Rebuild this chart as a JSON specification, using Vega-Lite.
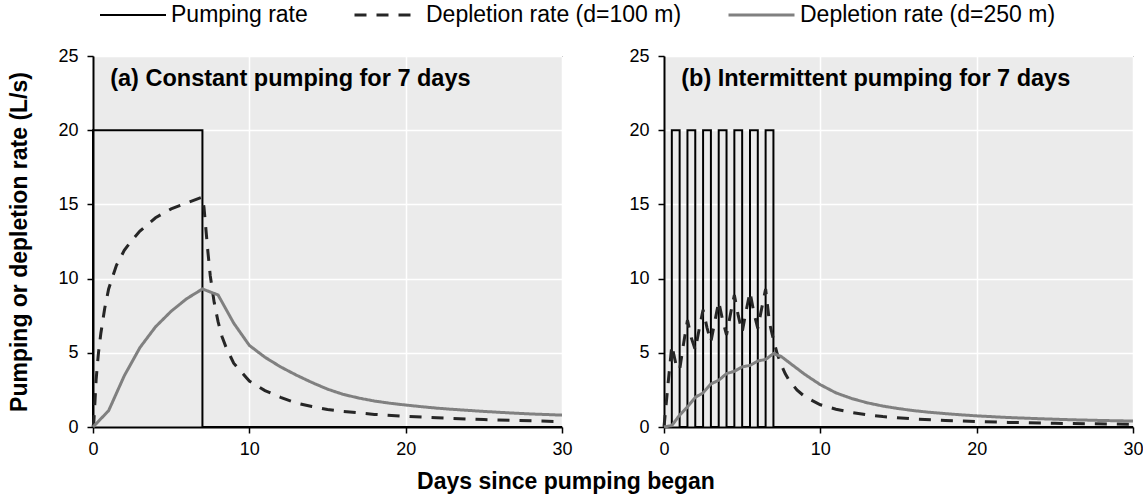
{
 "$schema": "https://vega.github.io/schema/vega-lite/v6.json",
 "background": "white",
 "padding": {"left": 8, "top": 2, "right": 0, "bottom": 1},
 "config": {
  "font": "Liberation Sans",
  "view": {"fill": "#ebebeb", "stroke": "#000000", "strokeWidth": 1},
  "axis": {"domainColor": "#000000", "domainWidth": 2, "tickColor": "#000000", "tickWidth": 1.5, "tickSize": 6, "labelFontSize": 18, "labelColor": "#000000", "labelFont": "Liberation Sans", "gridColor": "#ffffff", "gridWidth": 1.5, "titleFontSize": 23, "titleFontWeight": "bold", "titleColor": "#000000", "titleFont": "Liberation Sans"},
  "axisX": {"labelPadding": 7},
  "axisY": {"labelPadding": 9},
  "legend": {"orient": "none", "legendX": 6, "legendY": -54, "direction": "horizontal", "title": null, "symbolType": "stroke", "symbolSize": 4356, "clipHeight": 26, "labelFontSize": 23, "labelFont": "Liberation Sans", "labelColor": "#000000", "columnPadding": 45, "labelOffset": 4, "labelLimit": 500}
 },
 "title": {"text": "Days since pumping began", "orient": "bottom", "anchor": "middle", "fontSize": 23, "fontWeight": "bold", "color": "#000000", "font": "Liberation Sans", "offset": 12, "dx": -10},
 "data": {"values": [
  {"p":"a","s":"Pumping rate","i":0,"x":0,"y":0},
  {"p":"a","s":"Pumping rate","i":1,"x":0,"y":20},
  {"p":"a","s":"Pumping rate","i":2,"x":7,"y":20},
  {"p":"a","s":"Pumping rate","i":3,"x":7,"y":0},
  {"p":"a","s":"Pumping rate","i":4,"x":30,"y":0},
  {"p":"a","s":"Depletion rate (d=100 m)","i":0,"x":0,"y":0},
  {"p":"a","s":"Depletion rate (d=100 m)","i":0.05,"x":0.05,"y":0.3},
  {"p":"a","s":"Depletion rate (d=100 m)","i":0.1,"x":0.1,"y":1.2},
  {"p":"a","s":"Depletion rate (d=100 m)","i":0.2,"x":0.2,"y":3.2},
  {"p":"a","s":"Depletion rate (d=100 m)","i":0.35,"x":0.35,"y":5.0},
  {"p":"a","s":"Depletion rate (d=100 m)","i":0.5,"x":0.5,"y":6.3},
  {"p":"a","s":"Depletion rate (d=100 m)","i":0.75,"x":0.75,"y":8.0},
  {"p":"a","s":"Depletion rate (d=100 m)","i":1,"x":1,"y":9.3},
  {"p":"a","s":"Depletion rate (d=100 m)","i":1.5,"x":1.5,"y":10.9},
  {"p":"a","s":"Depletion rate (d=100 m)","i":2,"x":2,"y":11.9},
  {"p":"a","s":"Depletion rate (d=100 m)","i":2.5,"x":2.5,"y":12.6},
  {"p":"a","s":"Depletion rate (d=100 m)","i":3,"x":3,"y":13.2},
  {"p":"a","s":"Depletion rate (d=100 m)","i":4,"x":4,"y":14.1},
  {"p":"a","s":"Depletion rate (d=100 m)","i":5,"x":5,"y":14.7},
  {"p":"a","s":"Depletion rate (d=100 m)","i":6,"x":6,"y":15.1},
  {"p":"a","s":"Depletion rate (d=100 m)","i":7,"x":7,"y":15.5},
  {"p":"a","s":"Depletion rate (d=100 m)","i":7.1,"x":7.1,"y":14.8},
  {"p":"a","s":"Depletion rate (d=100 m)","i":7.2,"x":7.2,"y":13.6},
  {"p":"a","s":"Depletion rate (d=100 m)","i":7.35,"x":7.35,"y":11.8},
  {"p":"a","s":"Depletion rate (d=100 m)","i":7.5,"x":7.5,"y":10.2},
  {"p":"a","s":"Depletion rate (d=100 m)","i":7.75,"x":7.75,"y":8.4},
  {"p":"a","s":"Depletion rate (d=100 m)","i":8,"x":8,"y":7.1},
  {"p":"a","s":"Depletion rate (d=100 m)","i":8.25,"x":8.25,"y":6.1},
  {"p":"a","s":"Depletion rate (d=100 m)","i":8.5,"x":8.5,"y":5.4},
  {"p":"a","s":"Depletion rate (d=100 m)","i":9,"x":9,"y":4.3},
  {"p":"a","s":"Depletion rate (d=100 m)","i":10,"x":10,"y":3.1},
  {"p":"a","s":"Depletion rate (d=100 m)","i":11,"x":11,"y":2.45},
  {"p":"a","s":"Depletion rate (d=100 m)","i":12,"x":12,"y":2.0},
  {"p":"a","s":"Depletion rate (d=100 m)","i":13,"x":13,"y":1.62},
  {"p":"a","s":"Depletion rate (d=100 m)","i":14,"x":14,"y":1.38},
  {"p":"a","s":"Depletion rate (d=100 m)","i":15,"x":15,"y":1.18},
  {"p":"a","s":"Depletion rate (d=100 m)","i":16,"x":16,"y":1.05},
  {"p":"a","s":"Depletion rate (d=100 m)","i":18,"x":18,"y":0.85},
  {"p":"a","s":"Depletion rate (d=100 m)","i":20,"x":20,"y":0.72},
  {"p":"a","s":"Depletion rate (d=100 m)","i":22,"x":22,"y":0.62},
  {"p":"a","s":"Depletion rate (d=100 m)","i":25,"x":25,"y":0.5},
  {"p":"a","s":"Depletion rate (d=100 m)","i":30,"x":30,"y":0.36},
  {"p":"a","s":"Depletion rate (d=250 m)","i":0,"x":0,"y":0},
  {"p":"a","s":"Depletion rate (d=250 m)","i":1,"x":1,"y":1.1},
  {"p":"a","s":"Depletion rate (d=250 m)","i":2,"x":2,"y":3.45},
  {"p":"a","s":"Depletion rate (d=250 m)","i":3,"x":3,"y":5.35},
  {"p":"a","s":"Depletion rate (d=250 m)","i":4,"x":4,"y":6.75},
  {"p":"a","s":"Depletion rate (d=250 m)","i":5,"x":5,"y":7.8},
  {"p":"a","s":"Depletion rate (d=250 m)","i":6,"x":6,"y":8.65},
  {"p":"a","s":"Depletion rate (d=250 m)","i":7,"x":7,"y":9.3},
  {"p":"a","s":"Depletion rate (d=250 m)","i":8,"x":8,"y":8.9},
  {"p":"a","s":"Depletion rate (d=250 m)","i":9,"x":9,"y":7.0},
  {"p":"a","s":"Depletion rate (d=250 m)","i":10,"x":10,"y":5.5},
  {"p":"a","s":"Depletion rate (d=250 m)","i":11,"x":11,"y":4.7},
  {"p":"a","s":"Depletion rate (d=250 m)","i":12,"x":12,"y":4.05},
  {"p":"a","s":"Depletion rate (d=250 m)","i":13,"x":13,"y":3.5},
  {"p":"a","s":"Depletion rate (d=250 m)","i":14,"x":14,"y":3.0},
  {"p":"a","s":"Depletion rate (d=250 m)","i":15,"x":15,"y":2.55},
  {"p":"a","s":"Depletion rate (d=250 m)","i":16,"x":16,"y":2.2},
  {"p":"a","s":"Depletion rate (d=250 m)","i":17,"x":17,"y":1.95},
  {"p":"a","s":"Depletion rate (d=250 m)","i":18,"x":18,"y":1.75},
  {"p":"a","s":"Depletion rate (d=250 m)","i":19,"x":19,"y":1.6},
  {"p":"a","s":"Depletion rate (d=250 m)","i":20,"x":20,"y":1.48},
  {"p":"a","s":"Depletion rate (d=250 m)","i":21,"x":21,"y":1.37},
  {"p":"a","s":"Depletion rate (d=250 m)","i":22,"x":22,"y":1.27},
  {"p":"a","s":"Depletion rate (d=250 m)","i":23,"x":23,"y":1.19},
  {"p":"a","s":"Depletion rate (d=250 m)","i":24,"x":24,"y":1.12},
  {"p":"a","s":"Depletion rate (d=250 m)","i":25,"x":25,"y":1.05},
  {"p":"a","s":"Depletion rate (d=250 m)","i":26,"x":26,"y":0.99},
  {"p":"a","s":"Depletion rate (d=250 m)","i":27,"x":27,"y":0.93},
  {"p":"a","s":"Depletion rate (d=250 m)","i":28,"x":28,"y":0.88},
  {"p":"a","s":"Depletion rate (d=250 m)","i":29,"x":29,"y":0.84},
  {"p":"a","s":"Depletion rate (d=250 m)","i":30,"x":30,"y":0.8},
  {"p":"b","s":"Pumping rate","i":0,"x":0,"y":0},
  {"p":"b","s":"Pumping rate","i":1,"x":0.5,"y":0},
  {"p":"b","s":"Pumping rate","i":2,"x":0.5,"y":20},
  {"p":"b","s":"Pumping rate","i":3,"x":1,"y":20},
  {"p":"b","s":"Pumping rate","i":4,"x":1,"y":0},
  {"p":"b","s":"Pumping rate","i":5,"x":1.5,"y":0},
  {"p":"b","s":"Pumping rate","i":6,"x":1.5,"y":20},
  {"p":"b","s":"Pumping rate","i":7,"x":2,"y":20},
  {"p":"b","s":"Pumping rate","i":8,"x":2,"y":0},
  {"p":"b","s":"Pumping rate","i":9,"x":2.5,"y":0},
  {"p":"b","s":"Pumping rate","i":10,"x":2.5,"y":20},
  {"p":"b","s":"Pumping rate","i":11,"x":3,"y":20},
  {"p":"b","s":"Pumping rate","i":12,"x":3,"y":0},
  {"p":"b","s":"Pumping rate","i":13,"x":3.5,"y":0},
  {"p":"b","s":"Pumping rate","i":14,"x":3.5,"y":20},
  {"p":"b","s":"Pumping rate","i":15,"x":4,"y":20},
  {"p":"b","s":"Pumping rate","i":16,"x":4,"y":0},
  {"p":"b","s":"Pumping rate","i":17,"x":4.5,"y":0},
  {"p":"b","s":"Pumping rate","i":18,"x":4.5,"y":20},
  {"p":"b","s":"Pumping rate","i":19,"x":5,"y":20},
  {"p":"b","s":"Pumping rate","i":20,"x":5,"y":0},
  {"p":"b","s":"Pumping rate","i":21,"x":5.5,"y":0},
  {"p":"b","s":"Pumping rate","i":22,"x":5.5,"y":20},
  {"p":"b","s":"Pumping rate","i":23,"x":6,"y":20},
  {"p":"b","s":"Pumping rate","i":24,"x":6,"y":0},
  {"p":"b","s":"Pumping rate","i":25,"x":6.5,"y":0},
  {"p":"b","s":"Pumping rate","i":26,"x":6.5,"y":20},
  {"p":"b","s":"Pumping rate","i":27,"x":7,"y":20},
  {"p":"b","s":"Pumping rate","i":28,"x":7,"y":0},
  {"p":"b","s":"Pumping rate","i":29,"x":30,"y":0},
  {"p":"b","s":"Depletion rate (d=100 m)","i":0,"x":0,"y":0},
  {"p":"b","s":"Depletion rate (d=100 m)","i":0.25,"x":0.25,"y":2.8},
  {"p":"b","s":"Depletion rate (d=100 m)","i":0.5,"x":0.5,"y":5.5},
  {"p":"b","s":"Depletion rate (d=100 m)","i":0.75,"x":0.75,"y":4.3},
  {"p":"b","s":"Depletion rate (d=100 m)","i":1,"x":1,"y":3.85},
  {"p":"b","s":"Depletion rate (d=100 m)","i":1.25,"x":1.25,"y":5.6},
  {"p":"b","s":"Depletion rate (d=100 m)","i":1.5,"x":1.5,"y":7.2},
  {"p":"b","s":"Depletion rate (d=100 m)","i":1.75,"x":1.75,"y":6.0},
  {"p":"b","s":"Depletion rate (d=100 m)","i":2,"x":2,"y":5.2},
  {"p":"b","s":"Depletion rate (d=100 m)","i":2.25,"x":2.25,"y":6.6},
  {"p":"b","s":"Depletion rate (d=100 m)","i":2.5,"x":2.5,"y":7.9},
  {"p":"b","s":"Depletion rate (d=100 m)","i":2.75,"x":2.75,"y":6.7},
  {"p":"b","s":"Depletion rate (d=100 m)","i":3,"x":3,"y":5.75},
  {"p":"b","s":"Depletion rate (d=100 m)","i":3.25,"x":3.25,"y":7.1},
  {"p":"b","s":"Depletion rate (d=100 m)","i":3.5,"x":3.5,"y":8.45},
  {"p":"b","s":"Depletion rate (d=100 m)","i":3.75,"x":3.75,"y":7.2},
  {"p":"b","s":"Depletion rate (d=100 m)","i":4,"x":4,"y":6.2},
  {"p":"b","s":"Depletion rate (d=100 m)","i":4.25,"x":4.25,"y":7.6},
  {"p":"b","s":"Depletion rate (d=100 m)","i":4.5,"x":4.5,"y":8.9},
  {"p":"b","s":"Depletion rate (d=100 m)","i":4.75,"x":4.75,"y":7.5},
  {"p":"b","s":"Depletion rate (d=100 m)","i":5,"x":5,"y":6.4},
  {"p":"b","s":"Depletion rate (d=100 m)","i":5.25,"x":5.25,"y":7.8},
  {"p":"b","s":"Depletion rate (d=100 m)","i":5.5,"x":5.5,"y":9.1},
  {"p":"b","s":"Depletion rate (d=100 m)","i":5.75,"x":5.75,"y":7.7},
  {"p":"b","s":"Depletion rate (d=100 m)","i":6,"x":6,"y":6.65},
  {"p":"b","s":"Depletion rate (d=100 m)","i":6.25,"x":6.25,"y":8.0},
  {"p":"b","s":"Depletion rate (d=100 m)","i":6.5,"x":6.5,"y":9.3},
  {"p":"b","s":"Depletion rate (d=100 m)","i":6.75,"x":6.75,"y":7.0},
  {"p":"b","s":"Depletion rate (d=100 m)","i":7,"x":7,"y":5.9},
  {"p":"b","s":"Depletion rate (d=100 m)","i":7.25,"x":7.25,"y":4.9},
  {"p":"b","s":"Depletion rate (d=100 m)","i":7.5,"x":7.5,"y":4.2},
  {"p":"b","s":"Depletion rate (d=100 m)","i":7.75,"x":7.75,"y":3.6},
  {"p":"b","s":"Depletion rate (d=100 m)","i":8,"x":8,"y":3.15},
  {"p":"b","s":"Depletion rate (d=100 m)","i":8.5,"x":8.5,"y":2.5},
  {"p":"b","s":"Depletion rate (d=100 m)","i":9,"x":9,"y":2.05},
  {"p":"b","s":"Depletion rate (d=100 m)","i":10,"x":10,"y":1.5},
  {"p":"b","s":"Depletion rate (d=100 m)","i":11,"x":11,"y":1.2},
  {"p":"b","s":"Depletion rate (d=100 m)","i":12,"x":12,"y":0.98},
  {"p":"b","s":"Depletion rate (d=100 m)","i":13,"x":13,"y":0.82},
  {"p":"b","s":"Depletion rate (d=100 m)","i":14,"x":14,"y":0.7},
  {"p":"b","s":"Depletion rate (d=100 m)","i":16,"x":16,"y":0.54},
  {"p":"b","s":"Depletion rate (d=100 m)","i":18,"x":18,"y":0.44},
  {"p":"b","s":"Depletion rate (d=100 m)","i":20,"x":20,"y":0.37},
  {"p":"b","s":"Depletion rate (d=100 m)","i":22,"x":22,"y":0.31},
  {"p":"b","s":"Depletion rate (d=100 m)","i":25,"x":25,"y":0.25},
  {"p":"b","s":"Depletion rate (d=100 m)","i":30,"x":30,"y":0.18},
  {"p":"b","s":"Depletion rate (d=250 m)","i":0,"x":0,"y":0},
  {"p":"b","s":"Depletion rate (d=250 m)","i":0.5,"x":0.5,"y":0.1},
  {"p":"b","s":"Depletion rate (d=250 m)","i":1,"x":1,"y":0.8},
  {"p":"b","s":"Depletion rate (d=250 m)","i":1.5,"x":1.5,"y":1.35},
  {"p":"b","s":"Depletion rate (d=250 m)","i":2,"x":2,"y":2.0},
  {"p":"b","s":"Depletion rate (d=250 m)","i":2.5,"x":2.5,"y":2.3},
  {"p":"b","s":"Depletion rate (d=250 m)","i":3,"x":3,"y":2.9},
  {"p":"b","s":"Depletion rate (d=250 m)","i":3.5,"x":3.5,"y":3.15},
  {"p":"b","s":"Depletion rate (d=250 m)","i":4,"x":4,"y":3.6},
  {"p":"b","s":"Depletion rate (d=250 m)","i":4.5,"x":4.5,"y":3.75},
  {"p":"b","s":"Depletion rate (d=250 m)","i":5,"x":5,"y":4.05},
  {"p":"b","s":"Depletion rate (d=250 m)","i":5.5,"x":5.5,"y":4.15},
  {"p":"b","s":"Depletion rate (d=250 m)","i":6,"x":6,"y":4.45},
  {"p":"b","s":"Depletion rate (d=250 m)","i":6.5,"x":6.5,"y":4.55},
  {"p":"b","s":"Depletion rate (d=250 m)","i":7,"x":7,"y":4.95},
  {"p":"b","s":"Depletion rate (d=250 m)","i":7.5,"x":7.5,"y":4.75},
  {"p":"b","s":"Depletion rate (d=250 m)","i":8,"x":8,"y":4.35},
  {"p":"b","s":"Depletion rate (d=250 m)","i":9,"x":9,"y":3.55},
  {"p":"b","s":"Depletion rate (d=250 m)","i":10,"x":10,"y":2.85},
  {"p":"b","s":"Depletion rate (d=250 m)","i":11,"x":11,"y":2.3},
  {"p":"b","s":"Depletion rate (d=250 m)","i":12,"x":12,"y":1.92},
  {"p":"b","s":"Depletion rate (d=250 m)","i":13,"x":13,"y":1.63},
  {"p":"b","s":"Depletion rate (d=250 m)","i":14,"x":14,"y":1.41},
  {"p":"b","s":"Depletion rate (d=250 m)","i":15,"x":15,"y":1.24},
  {"p":"b","s":"Depletion rate (d=250 m)","i":16,"x":16,"y":1.1},
  {"p":"b","s":"Depletion rate (d=250 m)","i":17,"x":17,"y":0.99},
  {"p":"b","s":"Depletion rate (d=250 m)","i":18,"x":18,"y":0.9},
  {"p":"b","s":"Depletion rate (d=250 m)","i":19,"x":19,"y":0.82},
  {"p":"b","s":"Depletion rate (d=250 m)","i":20,"x":20,"y":0.75},
  {"p":"b","s":"Depletion rate (d=250 m)","i":22,"x":22,"y":0.64},
  {"p":"b","s":"Depletion rate (d=250 m)","i":24,"x":24,"y":0.56},
  {"p":"b","s":"Depletion rate (d=250 m)","i":26,"x":26,"y":0.49},
  {"p":"b","s":"Depletion rate (d=250 m)","i":28,"x":28,"y":0.44},
  {"p":"b","s":"Depletion rate (d=250 m)","i":30,"x":30,"y":0.4}
 ]},
 "resolve": {"scale": {"color": "shared", "strokeDash": "shared", "strokeWidth": "shared"}, "legend": {"color": "shared", "strokeDash": "shared", "strokeWidth": "shared"}},
 "spacing": 55,
 "hconcat": [
  {
   "width": 469, "height": 371,
   "layer": [
    {"transform": [{"filter": "datum.p === 'a'"}],
     "mark": {"type": "line", "strokeCap": "butt", "strokeJoin": "miter"},
     "encoding": {
      "x": {"field": "x", "type": "quantitative", "scale": {"domain": [0, 30], "nice": false}, "axis": {"values": [0, 10, 20, 30], "title": null, "labelFlush": false}},
      "y": {"field": "y", "type": "quantitative", "scale": {"domain": [0, 25], "nice": false}, "axis": {"values": [0, 5, 10, 15, 20, 25], "title": "Pumping or depletion rate (L/s)", "titlePadding": 26}},
      "color": {"field": "s", "type": "nominal", "scale": {"domain": ["Pumping rate", "Depletion rate (d=100 m)", "Depletion rate (d=250 m)"], "range": ["#000000", "#262626", "#808080"]}},
      "strokeDash": {"field": "s", "type": "nominal", "scale": {"type": "ordinal", "domain": ["Pumping rate", "Depletion rate (d=100 m)", "Depletion rate (d=250 m)"], "range": [[1, 0], [12, 10], [1, 0]]}},
      "strokeWidth": {"field": "s", "type": "nominal", "scale": {"type": "ordinal", "domain": ["Pumping rate", "Depletion rate (d=100 m)", "Depletion rate (d=250 m)"], "range": [2, 3, 3]}},
      "order": {"field": "i", "type": "quantitative"}
     }},
    {"data": {"values": [{"t": "(a) Constant pumping for 7 days"}]},
     "mark": {"type": "text", "align": "left", "baseline": "alphabetic", "fontSize": 23.5, "fontWeight": "bold", "color": "#000000", "font": "Liberation Sans"},
     "encoding": {"text": {"field": "t"}, "x": {"datum": 1.1, "type": "quantitative"}, "y": {"datum": 22.95, "type": "quantitative"}}}
   ]
  },
  {
   "width": 469, "height": 371,
   "layer": [
    {"transform": [{"filter": "datum.p === 'b'"}],
     "mark": {"type": "line", "strokeCap": "butt", "strokeJoin": "miter"},
     "encoding": {
      "x": {"field": "x", "type": "quantitative", "scale": {"domain": [0, 30], "nice": false}, "axis": {"values": [0, 10, 20, 30], "title": null, "labelFlush": false}},
      "y": {"field": "y", "type": "quantitative", "scale": {"domain": [0, 25], "nice": false}, "axis": {"values": [0, 5, 10, 15, 20, 25], "title": null}},
      "color": {"field": "s", "type": "nominal", "scale": {"domain": ["Pumping rate", "Depletion rate (d=100 m)", "Depletion rate (d=250 m)"], "range": ["#000000", "#262626", "#808080"]}},
      "strokeDash": {"field": "s", "type": "nominal", "scale": {"type": "ordinal", "domain": ["Pumping rate", "Depletion rate (d=100 m)", "Depletion rate (d=250 m)"], "range": [[1, 0], [12, 10], [1, 0]]}},
      "strokeWidth": {"field": "s", "type": "nominal", "scale": {"type": "ordinal", "domain": ["Pumping rate", "Depletion rate (d=100 m)", "Depletion rate (d=250 m)"], "range": [2, 3, 3]}},
      "order": {"field": "i", "type": "quantitative"}
     }},
    {"data": {"values": [{"t": "(b) Intermittent pumping for 7 days"}]},
     "mark": {"type": "text", "align": "left", "baseline": "alphabetic", "fontSize": 23.5, "fontWeight": "bold", "color": "#000000", "font": "Liberation Sans"},
     "encoding": {"text": {"field": "t"}, "x": {"datum": 1.1, "type": "quantitative"}, "y": {"datum": 22.95, "type": "quantitative"}}}
   ]
  }
 ]
}
